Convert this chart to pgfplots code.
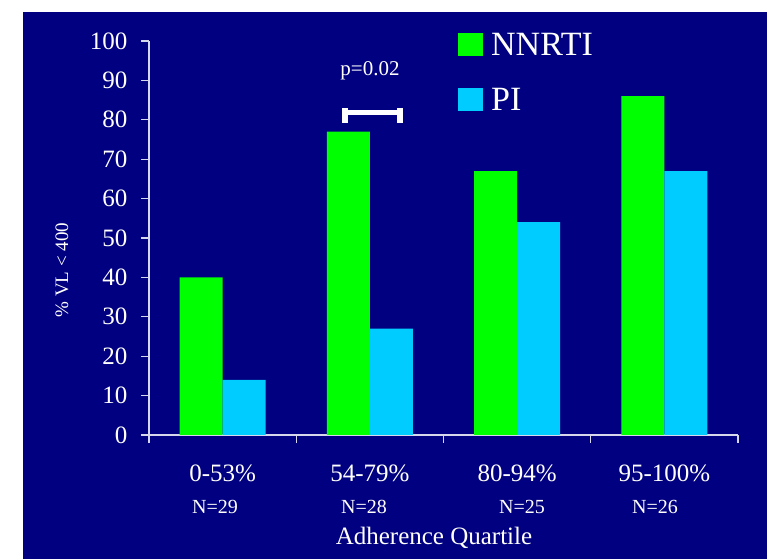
\documentclass[border=0pt]{standalone}
\usepackage{fontspec}
\setmainfont{Liberation Serif}
\usepackage{pgfplots}
\pgfplotsset{compat=1.18}
\definecolor{bgnavy}{RGB}{0,0,128}
\definecolor{nnrti}{RGB}{0,255,0}
\definecolor{picol}{RGB}{0,204,255}
\definecolor{axcol}{RGB}{215,215,235}
\begin{document}
\begin{tikzpicture}
\path[use as bounding box] (0bp,0bp) rectangle (767bp,559bp);
\fill[white] (0bp,0bp) rectangle (767bp,559bp);
\fill[bgnavy] (23bp,0bp) rectangle (767bp,547bp);
\begin{axis}[
  at={(149bp,124bp)}, anchor=south west,
  scale only axis, width=589bp, height=394bp,
  xmin=-0.5, xmax=3.5, ymin=0, ymax=100,
  axis x line*=bottom, axis y line*=left,
  axis line style={axcol, line width=1.2bp},
  ytick={0,10,...,100},
  xtick={0,1,2,3},
  xticklabels={0-53\%,54-79\%,80-94\%,95-100\%},
  major x tick style={draw=none},
  minor xtick={-0.5,0.5,1.5,2.5,3.5},
  tick align=outside, major tick length=8bp, minor tick length=8bp,
  every tick/.style={axcol, line width=1.2bp},
  tick label style={font=\fontsize{25bp}{30bp}\selectfont, text=white},
  yticklabel style={xshift=-10bp},
  xticklabel style={yshift=-18bp},
  /pgf/number format/assume math mode=true,
  ybar=0pt, bar width=43bp,
  clip=false,
  legend image code/.code={\fill[#1,draw=none] (0bp,-11bp) rectangle (25bp,12bp); \path (31bp,0bp);},
  legend style={at={(rel axis cs:0.5246,1.0254)}, anchor=north west,
    draw=none, fill=none, text=white, inner sep=0pt,
    font=\fontsize{34bp}{40bp}\selectfont, row sep=27bp},
  legend cell align=left,
]
\addplot[fill=nnrti, draw=none] coordinates {(0,40) (1,77) (2,67) (3,86)};
\addplot[fill=picol, draw=none] coordinates {(0,14) (1,27) (2,54) (3,67)};
\legend{NNRTI,PI}
\end{axis}
\node[rotate=90, text=white, font=\fontsize{19bp}{22bp}\selectfont] at (62bp,289bp) {\% VL < 400};
\node[text=white, font=\fontsize{20bp}{24bp}\selectfont] at (215bp,52bp) {N=29};
\node[text=white, font=\fontsize{20bp}{24bp}\selectfont] at (364bp,52bp) {N=28};
\node[text=white, font=\fontsize{20bp}{24bp}\selectfont] at (522bp,52bp) {N=25};
\node[text=white, font=\fontsize{20bp}{24bp}\selectfont] at (655bp,52bp) {N=26};
\node[text=white, font=\fontsize{25bp}{30bp}\selectfont] at (434bp,21bp) {Adherence Quartile};
\node[text=white, font=\fontsize{21bp}{25bp}\selectfont] at (370bp,488bp) {p=0.02};
\draw[white, line width=5bp] (345bp,446.5bp) -- (400bp,446.5bp);
\draw[white, line width=6bp] (345bp,436bp) -- (345bp,451bp);
\draw[white, line width=6bp] (400bp,436bp) -- (400bp,451bp);
\end{tikzpicture}
\end{document}
